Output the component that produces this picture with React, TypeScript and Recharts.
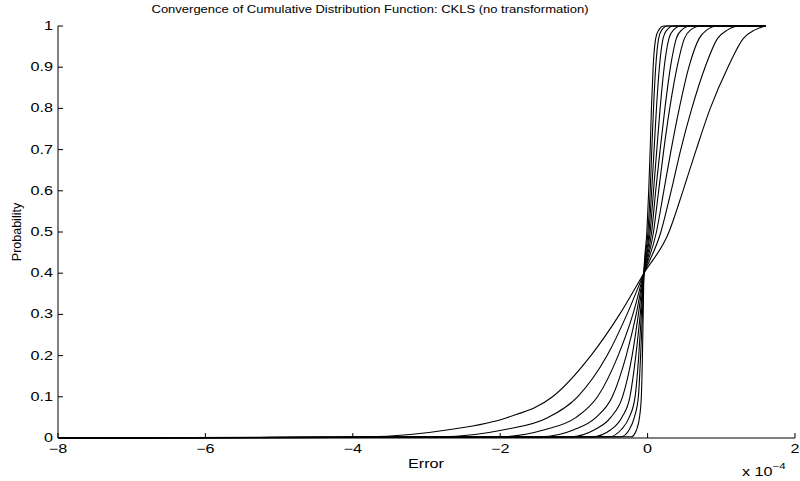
import { LineChart, Line, XAxis, YAxis } from 'recharts'

// probability levels shared by every curve (first point at x=-8, last at x=1.6)
const P_LEVELS = [0, 0.003, 0.02, 0.05, 0.1, 0.2, 0.3, 0.4, 0.5, 0.6, 0.7, 0.8, 0.9, 0.97, 0.99, 1, 1]

// error values (x 1e-4) for each curve, widest first
const C9 = [-8, -3.8, -2.7, -1.9, -1.29, -0.77, -0.38, -0.05, 0.29, 0.48, 0.66, 0.85, 1.09, 1.3, 1.45, 1.6, 1.6]
const C8 = [-8, -2.8, -1.95, -1.35, -0.95, -0.55, -0.28, -0.05, 0.18, 0.32, 0.45, 0.6, 0.78, 0.95, 1.08, 1.25, 1.6]
const C7 = [-8, -2.0, -1.4, -0.97, -0.68, -0.4, -0.2, -0.05, 0.12, 0.22, 0.32, 0.43, 0.56, 0.7, 0.8, 0.95, 1.6]
const C6 = [-8, -1.45, -1.0, -0.7, -0.48, -0.29, -0.155, -0.05, 0.08, 0.15, 0.22, 0.3, 0.4, 0.5, 0.58, 0.72, 1.6]
const C5 = [-8, -1.05, -0.72, -0.5, -0.34, -0.21, -0.125, -0.05, 0.055, 0.11, 0.17, 0.235, 0.31, 0.39, 0.46, 0.58, 1.6]
const C4 = [-8, -0.75, -0.5, -0.35, -0.24, -0.16, -0.1, -0.05, 0.035, 0.08, 0.125, 0.17, 0.225, 0.29, 0.35, 0.45, 1.6]
const C3 = [-8, -0.52, -0.36, -0.25, -0.17, -0.12, -0.085, -0.05, 0.02, 0.055, 0.088, 0.12, 0.16, 0.21, 0.26, 0.35, 1.6]
const C2 = [-8, -0.36, -0.25, -0.18, -0.125, -0.095, -0.07, -0.05, 0.005, 0.035, 0.057, 0.08, 0.11, 0.15, 0.19, 0.27, 1.6]
const C1 = [-8, -0.22, -0.15, -0.11, -0.085, -0.07, -0.06, -0.05, -0.01, 0.015, 0.035, 0.052, 0.075, 0.11, 0.15, 0.22, 1.6]

const CURVES = [C9, C8, C7, C6, C5, C4, C3, C2, C1]

const X_TICKS = [-8, -6, -4, -2, 0, 2]
const Y_TICKS = [0, 0.1, 0.2, 0.3, 0.4, 0.5, 0.6, 0.7, 0.8, 0.9, 1]

const FONT = '"Liberation Sans", Arial, Helvetica, sans-serif'
const W = 800
const H = 481
const PLOT_LEFT = 58
const PLOT_BOTTOM = 438
// the reference text is drawn horizontally stretched
const STRETCH = 1.35

const fmt = (v: number) => (v < 0 ? '\u2212' + Math.abs(v) : String(v))

const XTick = ({ x, y, payload }: any) => (
  <g>
    <line x1={x} y1={y} x2={x} y2={y - 5} stroke="#000" strokeWidth={1} />
    <text
      transform={`translate(${x},${y + 15}) scale(${STRETCH},1)`}
      textAnchor="middle"
      fontSize={12}
      fontFamily={FONT}
      fill="#000"
    >
      {fmt(payload.value)}
    </text>
  </g>
)

const YTick = ({ x, y, payload }: any) => (
  <g>
    <line x1={x} y1={y} x2={x + 5} y2={y} stroke="#000" strokeWidth={1} />
    <text
      transform={`translate(${x - 5},${y + 4}) scale(${STRETCH},1)`}
      textAnchor="end"
      fontSize={12}
      fontFamily={FONT}
      fill="#000"
    >
      {String(payload.value)}
    </text>
  </g>
)

export default function App() {
  const series = CURVES.map(xs => xs.map((x, i) => ({ x, p: P_LEVELS[i] })))

  return (
    <div style={{ position: 'absolute', left: 0, top: 0, width: W, height: H, background: '#fff', fontFamily: FONT }}>
      <LineChart width={W} height={H} margin={{ top: 26, right: 5, bottom: 0, left: 0 }}>
        <XAxis
          type="number"
          dataKey="x"
          domain={[-8, 2]}
          ticks={X_TICKS}
          allowDataOverflow
          height={H - PLOT_BOTTOM}
          tickSize={0}
          tickMargin={0}
          tickLine={false}
          axisLine={{ stroke: '#000', strokeWidth: 1 }}
          tick={<XTick />}
        />
        <YAxis
          type="number"
          dataKey="p"
          domain={[0, 1]}
          ticks={Y_TICKS}
          width={PLOT_LEFT}
          tickSize={0}
          tickMargin={0}
          tickLine={false}
          axisLine={{ stroke: '#000', strokeWidth: 1 }}
          tick={<YTick />}
        />
        {series.map((d, i) => (
          <Line
            key={i}
            data={d}
            dataKey="p"
            type="monotone"
            stroke="#000"
            strokeWidth={1.1}
            dot={false}
            activeDot={false}
            isAnimationActive={false}
          />
        ))}
      </LineChart>
      <div
        style={{
          position: 'absolute',
          left: 70,
          width: 600,
          top: 3,
          textAlign: 'center',
          fontSize: 11.5,
          whiteSpace: 'nowrap',
          transform: 'scaleX(1.13)',
        }}
      >
        Convergence of Cumulative Distribution Function: CKLS (no transformation)
      </div>
      <div
        style={{
          position: 'absolute',
          left: 326,
          width: 200,
          top: 457,
          textAlign: 'center',
          fontSize: 12,
          transform: `scaleX(${STRETCH})`,
        }}
      >
        Error
      </div>
      <div
        style={{
          position: 'absolute',
          left: 17,
          top: 232,
          fontSize: 12.5,
          whiteSpace: 'nowrap',
          transform: 'translate(-50%, -50%) rotate(-90deg)',
        }}
      >
        Probability
      </div>
      <div
        style={{
          position: 'absolute',
          left: 742,
          top: 463,
          fontSize: 12,
          whiteSpace: 'nowrap',
          transform: `scaleX(${STRETCH})`,
          transformOrigin: 'left center',
        }}
      >
        x 10<sup style={{ fontSize: 8.5, position: 'relative', top: -2 }}>{'\u22124'}</sup>
      </div>
    </div>
  )
}
